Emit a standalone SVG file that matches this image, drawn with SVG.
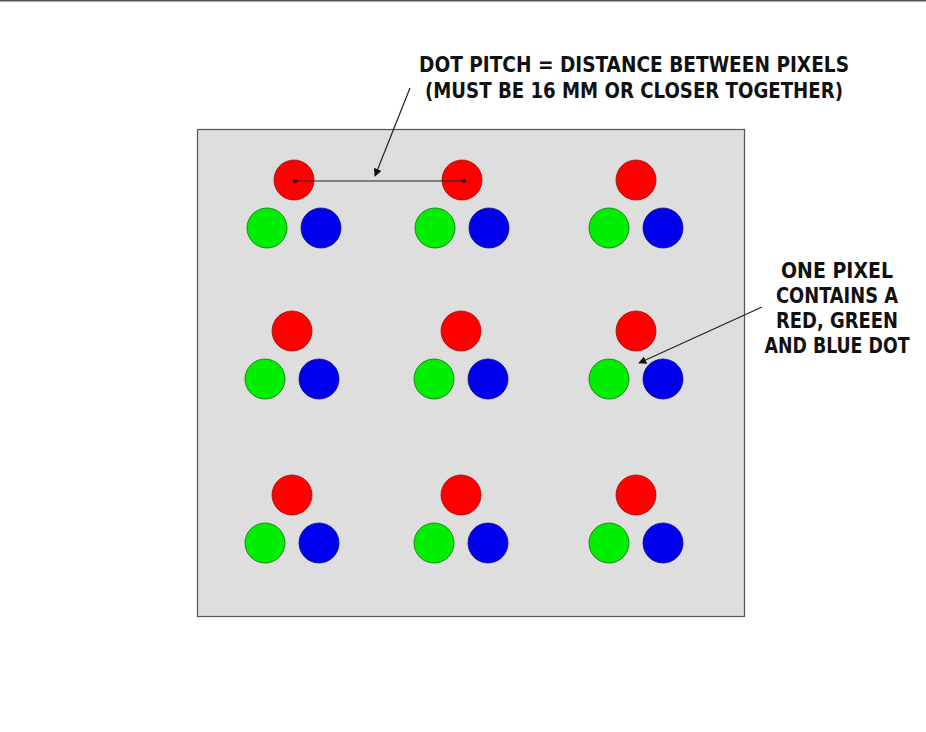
<svg xmlns="http://www.w3.org/2000/svg" width="926" height="732" viewBox="0 0 926 732">
<defs>
<style>
.r{fill:#ff0000;stroke:#a01010;stroke-width:0.8}
.g{fill:#00ee00;stroke:#107010;stroke-width:0.8}
.b{fill:#0000ee;stroke:#101080;stroke-width:0.8}
.t{font-family:"DejaVu Sans Condensed","Liberation Sans Narrow","Liberation Sans",sans-serif;font-weight:bold;font-size:22px;fill:#111;text-anchor:middle}
.ln{stroke:#222;stroke-width:1.2;fill:none}
</style>
<marker id="ah" viewBox="0 0 10 10" refX="9" refY="5" markerWidth="8" markerHeight="8" markerUnits="userSpaceOnUse" orient="auto">
<path d="M0,0 L10,5 L0,10 z" fill="#111"/>
</marker>
<g id="pix">
<circle class="r" cx="0" cy="0" r="20"/>
<circle class="g" cx="-27" cy="48" r="20"/>
<circle class="b" cx="27" cy="48" r="20"/>
</g>
</defs>
<rect width="926" height="732" fill="#fff"/>
<line x1="0" y1="0.8" x2="926" y2="0.8" stroke="#555" stroke-width="1.6"/>
<g id="panel">
<rect x="197.5" y="129.5" width="547" height="487" fill="#dedede" stroke="#555" stroke-width="1.2"/>
</g>
<g id="pixel-1-1"><use href="#pix" x="294" y="180"/></g>
<g id="pixel-1-2"><use href="#pix" x="462" y="180"/></g>
<g id="pixel-1-3"><use href="#pix" x="636" y="180"/></g>
<g id="pixel-2-1"><use href="#pix" x="292" y="331"/></g>
<g id="pixel-2-2"><use href="#pix" x="461" y="331"/></g>
<g id="pixel-2-3"><use href="#pix" x="636" y="331"/></g>
<g id="pixel-3-1"><use href="#pix" x="292" y="495"/></g>
<g id="pixel-3-2"><use href="#pix" x="461" y="495"/></g>
<g id="pixel-3-3"><use href="#pix" x="636" y="495"/></g>
<g id="connectors">
<line class="ln" x1="295" y1="181" x2="464" y2="181"/>
<circle cx="295" cy="181" r="2" fill="#111"/>
<circle cx="464" cy="181" r="2" fill="#111"/>
<line class="ln" x1="410" y1="88" x2="375" y2="176" marker-end="url(#ah)"/>
<line class="ln" x1="762" y1="307" x2="639" y2="363" marker-end="url(#ah)"/>
</g>
<g id="label-pitch">
<text class="t" x="634" y="72" textLength="430" lengthAdjust="spacingAndGlyphs">DOT PITCH = DISTANCE BETWEEN PIXELS</text>
<text class="t" x="634" y="98" textLength="418" lengthAdjust="spacingAndGlyphs">(MUST BE 16 MM OR CLOSER TOGETHER)</text>
</g>
<g id="label-pixel">
<text class="t" x="837" y="278" textLength="112" lengthAdjust="spacingAndGlyphs">ONE PIXEL</text>
<text class="t" x="837" y="303" textLength="122" lengthAdjust="spacingAndGlyphs">CONTAINS A</text>
<text class="t" x="837" y="328" textLength="122" lengthAdjust="spacingAndGlyphs">RED, GREEN</text>
<text class="t" x="837" y="353" textLength="145" lengthAdjust="spacingAndGlyphs">AND BLUE DOT</text>
</g>
</svg>
